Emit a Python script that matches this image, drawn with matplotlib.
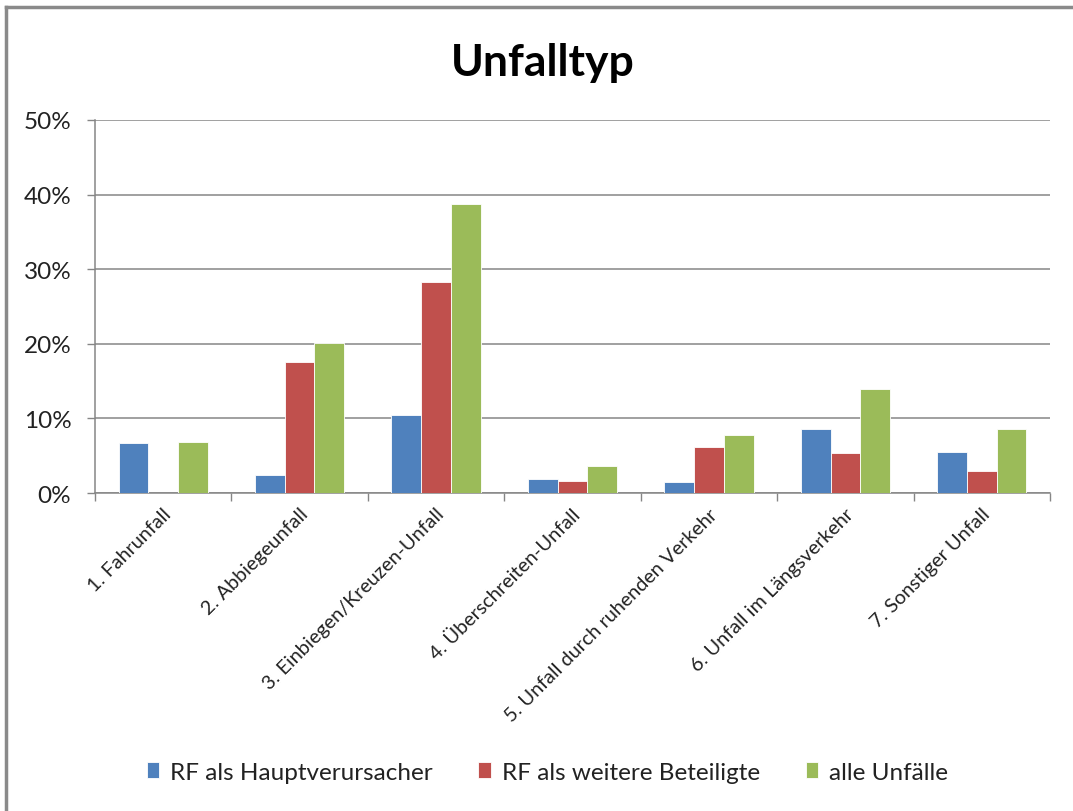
import numpy as np
import matplotlib.pyplot as plt
from matplotlib.lines import Line2D
from matplotlib.ticker import FuncFormatter, MultipleLocator

plt.rcParams['font.family'] = ['Lato', 'DejaVu Sans']

kategorien = ['1. Fahrunfall', '2. Abbiegeunfall', '3. Einbiegen/Kreuzen-Unfall',
              '4. Überschreiten-Unfall', '5. Unfall durch ruhenden Verkehr',
              '6. Unfall im Längsverkehr', '7. Sonstiger Unfall']
haupt = [6.7, 2.45, 10.5, 1.9, 1.45, 8.6, 5.5]        # RF als Hauptverursacher
weitere = [0.0, 17.5, 28.3, 1.6, 6.2, 5.35, 2.95]     # RF als weitere Beteiligte
alle = [6.9, 20.05, 38.8, 3.6, 7.75, 13.9, 8.6]       # alle Unfälle
serien = ['RF als Hauptverursacher', 'RF als weitere Beteiligte', 'alle Unfälle']
farben = ['#4F81BD', '#C0504D', '#9BBB59']

fig = plt.figure(figsize=(10.73, 8.12), dpi=100)
ax = fig.add_axes([0.0885, 0.3916, 0.8901, 0.4594])

x = np.arange(len(kategorien))
b = 0.218
for i, (werte, name, f) in enumerate(zip([haupt, weitere, alle], serien, farben)):
    ax.bar(x + (i - 1) * b, werte, b, color=f, label=name, edgecolor='white', linewidth=0.6, zorder=3)

ax.set_xlim(-0.5, len(kategorien) - 0.5)
ax.set_ylim(0, 50)
ax.yaxis.set_major_locator(MultipleLocator(10))
ax.yaxis.set_major_formatter(FuncFormatter(lambda v, p: f'{v:.0f}%'))
ax.grid(axis='y', color='#868686', linewidth=1.1, zorder=0)
ax.tick_params(axis='y', labelsize=17.5, colors='#868686', labelcolor='#222222', length=6, width=1, pad=11)

# Kategorie-Grenzen als Striche, Beschriftung in der Mitte
ax.set_xticks(np.arange(-0.5, len(kategorien)), minor=False)
ax.set_xticklabels([])
ax.tick_params(axis='x', colors='#868686', length=6, width=1)
for xi, lab in zip(x, kategorien):
    ax.annotate(lab, xy=(xi + 0.04, 0), xycoords=('data', 'axes fraction'),
                xytext=(0, -13), textcoords='offset points',
                rotation=45, ha='right', va='center', rotation_mode='anchor', fontsize=14.3,
                color='#222222')

for s in ['top', 'right']:
    ax.spines[s].set_visible(False)
ax.spines['left'].set_color('#868686')
ax.spines['bottom'].set_color('#868686')
ax.spines['left'].set_linewidth(1.1)
ax.spines['bottom'].set_linewidth(1.1)

fig.text(0.506, 0.923, 'Unfalltyp', ha='center', va='center', fontsize=32, fontweight='bold')

leg = fig.legend(loc='center', bbox_to_anchor=(0.51, 0.048), ncol=3, frameon=False, fontsize=17.5,
                 handlelength=0.5, handleheight=0.6, handletextpad=0.45, columnspacing=1.9)
for t in leg.get_texts():
    t.set_color('#222222')

# Rahmen oben und links
fig.add_artist(Line2D([0.006, 1.0], [0.990, 0.990], color='#8a8a8a', linewidth=2.5))
fig.add_artist(Line2D([0.006, 0.006], [0.0, 0.990], color='#8a8a8a', linewidth=2.5))

fig.savefig('out.png', dpi=100)
